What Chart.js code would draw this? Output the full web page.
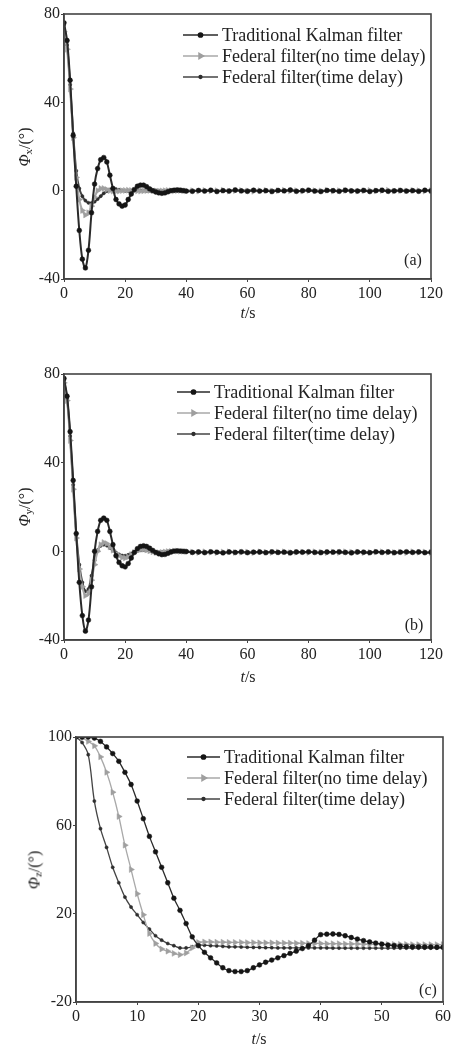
<!DOCTYPE html>
<html><head><meta charset="utf-8">
<script src="https://cdn.jsdelivr.net/npm/chart.js@4.4.1/dist/chart.umd.min.js"></script>
<style>
body{margin:0;background:#fff;width:455px;height:1048px;position:relative;overflow:hidden;font-family:"Liberation Serif",serif;color:#222}
.panel{position:absolute;left:0;width:455px}
.lbl{position:absolute;font-size:16px;white-space:nowrap;line-height:1}
.ytitle{transform:translate(-50%,-50%) rotate(-90deg)}
.ctr{transform:translate(-50%,-50%)}
sub{font-size:11px;vertical-align:-2px}
</style></head><body>
<div class="panel" style="top:0;height:330px"><canvas id="ca" width="455" height="330"></canvas></div>
<div class="panel" style="top:340px;height:330px"><canvas id="cb" width="455" height="330"></canvas></div>
<div class="panel" style="top:700px;height:348px"><canvas id="cc" width="455" height="348"></canvas></div>

<div class="lbl ytitle" style="left:25px;top:147px"><i>Φ</i><sub>x</sub>/(°)</div>
<div class="lbl ytitle" style="left:25px;top:507px"><i>Φ</i><sub>y</sub>/(°)</div>
<div class="lbl ytitle" style="left:35px;top:870px"><i>Φ</i><sub>z</sub>/(°)</div>
<div class="lbl ctr" style="left:248px;top:313px"><i>t</i>/s</div>
<div class="lbl ctr" style="left:248px;top:677px"><i>t</i>/s</div>
<div class="lbl ctr" style="left:259px;top:1039px"><i>t</i>/s</div>
<div class="lbl ctr" style="left:413px;top:260px">(a)</div>
<div class="lbl ctr" style="left:414px;top:625px">(b)</div>
<div class="lbl ctr" style="left:428px;top:990px">(c)</div>

<script>
const seriesNames = ["Traditional Kalman filter", "Federal filter(no time delay)", "Federal filter(time delay)"];

// time samples (s) for panels (a) and (b)
const tAB = [0,1,2,3,4,5,6,7,8,9,10,11,12,13,14,15,16,17,18,19,20,21,22,23,24,25,26,27,28,29,30,31,32,33,34,35,36,37,38,39,40,
  42,44,46,48,50,52,54,56,58,60,62,64,66,68,70,72,74,76,78,80,82,84,86,88,90,92,94,96,98,100,102,104,106,108,110,112,114,116,118,120];

// panel (a)
const aKalman = [76,68,50,25,2,-18,-31,-35,-27,-10,3,10,14,15,13,7,1,-4,-6,-7,-6.5,-4,-1.5,0.5,2,2.5,2.5,1.8,0.8,0,-0.6,-1,-1.2,-1,-0.5,0,0.2,0.3,0.2,0,-0.2,
  -0.3,0.1,-0.2,0.2,-0.4,0,-0.2,0.3,-0.1,-0.3,0.2,-0.2,0,-0.4,0.1,-0.1,0.3,-0.3,0,0.2,-0.2,-0.4,0.1,0,-0.3,0.2,-0.1,-0.2,0.1,-0.4,0,0.2,-0.3,-0.1,0.1,-0.2,0,-0.3,0.2,-0.1];
const aNoDelay = [72,64,46,24,6,-4,-9,-11,-10,-7,-3,0,1,1,0.5,0,-0.2,-0.3,-0.2,0,0.1,0.2,0.1,0,-0.1,-0.2,-0.1,0,0.1,0,-0.1,-0.2,-0.1,0,0.1,0,-0.1,0,0.1,0,-0.1,
  0,-0.2,0.1,-0.1,0,0.2,-0.2,0,0.1,-0.1,-0.3,0,0.1,-0.2,0,0.2,-0.1,0,-0.2,0.1,0,-0.1,0.2,-0.2,0,0.1,-0.1,-0.2,0,0.1,-0.1,0,0.2,-0.2,0,-0.1,0.1,0,-0.2,0];
const aDelay = [75,66,48,26,9,1,-2.5,-4.5,-5.5,-5.6,-5,-3.8,-2.5,-1.2,-0.2,0.5,0.8,0.7,0.4,0.1,-0.1,-0.2,-0.1,0,0.1,0.1,0,-0.1,-0.1,0,0.1,0,-0.1,0,0.1,0,-0.1,0,0.1,0,-0.1,
  0.1,-0.1,0,0.1,-0.2,0,0.1,-0.1,0,0.2,-0.1,0,-0.2,0.1,0,-0.1,0.1,0,-0.2,0,0.1,-0.1,0,0.1,-0.1,-0.2,0,0.1,0,-0.1,0.1,-0.2,0,0.1,-0.1,0,0.1,0,-0.1,0];

// panel (b)
const bKalman = [78,70,54,32,8,-14,-29,-36,-31,-16,0,9,14,15,14,9,3,-2,-5,-6.5,-7,-5.5,-3,-0.5,1.2,2.2,2.5,2.2,1.4,0.4,-0.5,-1.1,-1.5,-1.4,-0.9,-0.3,0.1,0.2,0.1,0,-0.1,
  -0.5,-0.3,-0.6,-0.2,-0.4,-0.7,-0.3,-0.5,-0.2,-0.6,-0.4,-0.3,-0.6,-0.2,-0.5,-0.4,-0.7,-0.3,-0.4,-0.2,-0.5,-0.6,-0.3,-0.4,-0.2,-0.5,-0.7,-0.3,-0.4,-0.6,-0.2,-0.5,-0.3,-0.6,-0.4,-0.2,-0.5,-0.3,-0.6,-0.4];
const bNoDelay = [76,68,50,28,6,-8,-16,-20,-19,-13,-6,0,3,4,3.5,2,0.5,-1,-2,-2.8,-3,-2.5,-1.5,-0.5,0.3,0.8,0.9,0.6,0.2,-0.2,-0.5,-0.6,-0.5,-0.3,-0.1,0,0.1,0.1,0,0,-0.1,
  -0.3,-0.5,-0.2,-0.4,-0.6,-0.3,-0.2,-0.5,-0.4,-0.3,-0.6,-0.2,-0.4,-0.5,-0.3,-0.2,-0.6,-0.4,-0.3,-0.5,-0.2,-0.4,-0.6,-0.3,-0.5,-0.2,-0.4,-0.3,-0.6,-0.5,-0.3,-0.2,-0.4,-0.5,-0.3,-0.6,-0.2,-0.4,-0.3,-0.5];
const bDelay = [77,69,52,30,8,-6,-14,-18,-17,-11,-4,0.5,2.5,3,2.6,1.6,0.4,-0.6,-1.4,-1.9,-2,-1.6,-1,-0.3,0.2,0.5,0.6,0.4,0.1,-0.1,-0.3,-0.4,-0.3,-0.2,0,0.1,0.1,0,0,-0.1,0,
  -0.4,-0.2,-0.5,-0.3,-0.4,-0.6,-0.2,-0.3,-0.5,-0.4,-0.2,-0.5,-0.3,-0.4,-0.6,-0.3,-0.2,-0.4,-0.5,-0.3,-0.4,-0.2,-0.5,-0.3,-0.6,-0.4,-0.2,-0.3,-0.5,-0.4,-0.3,-0.5,-0.2,-0.4,-0.3,-0.6,-0.4,-0.2,-0.5,-0.3];

// panel (c)
const tC = [0,1,2,3,4,5,6,7,8,9,10,11,12,13,14,15,16,17,18,19,20,21,22,23,24,25,26,27,28,29,30,
  31,32,33,34,35,36,37,38,39,40,41,42,43,44,45,46,47,48,49,50,51,52,53,54,55,56,57,58,59,60];
const cKalman = [100,100,100,99.5,98,95.5,92.5,89,84,78.5,71,63,55,48,41,34,27,21.5,15.5,9.5,5.5,2.5,0,-2.3,-4.5,-5.8,-6.2,-6.2,-5.8,-4.5,
  -3.2,-2,-1,0,1,2,3,4.2,5.5,8,10.5,10.7,10.8,10.6,10,9.2,8.5,7.8,7.2,6.7,6.2,5.8,5.5,5.3,5.1,5,5,4.9,4.9,4.8,4.8];
const cNoDelay = [100,99.5,98,96,91,84,75,64,51,40,29,19.5,11,6.5,4,3,2,1.4,2.2,4.5,7,7.2,7.2,7.1,7.1,7,7,7,6.9,6.9,
  6.8,6.8,6.8,6.7,6.7,6.7,6.6,6.6,6.5,6.5,6.5,6.4,6.4,6.4,6.3,6.3,6.3,6.2,6.2,6.2,6.2,6.1,6.1,6.1,6.1,6,6,6,6,6,6];
const cDelay = [100,97.5,92,71,58.5,50,41,34,27.5,23,19.5,16,13,10,8,6.5,5.5,4.5,4.5,5,5.8,5.7,5.5,5.4,5.2,5,5,4.9,4.8,4.7,
  4.7,4.6,4.6,4.5,4.5,4.5,4.5,4.5,4.5,4.5,4.5,4.5,4.4,4.4,4.4,4.4,4.4,4.4,4.4,4.4,4.4,4.4,4.4,4.4,4.4,4.4,4.4,4.4,4.4,4.4,4.4];

const FONT = '"Liberation Serif", serif';
const styles = [
  {line:'#2a2a2a', pt:'#151515', pointStyle:'circle', radius:2.4, rotation:0},
  {line:'#a9a9a9', pt:'#9f9f9f', pointStyle:'triangle', radius:3.4, rotation:90},
  {line:'#444444', pt:'#2e2e2e', pointStyle:'circle', radius:1.6, rotation:0}
];

const framePlugin = {
  id:'frame',
  afterDraw(chart){
    const a = chart.chartArea, ctx = chart.ctx;
    ctx.save(); ctx.strokeStyle='#444'; ctx.lineWidth=1.6;
    ctx.strokeRect(a.left, a.top, a.right-a.left, a.bottom-a.top);
    ctx.restore();
  }
};
const legendPlugin = {
  id:'customLegend',
  afterDatasetsDraw(chart, args, opts){
    const ctx = chart.ctx;
    ctx.save();
    chart.data.datasets.forEach((ds,i)=>{
      const y = opts.y + i*opts.dy, x0 = opts.x;
      ctx.strokeStyle = ds.borderColor; ctx.lineWidth = 1.6;
      ctx.beginPath(); ctx.moveTo(x0, y); ctx.lineTo(x0+opts.len, y); ctx.stroke();
      ctx.fillStyle = ds.pointBackgroundColor; ctx.strokeStyle = ds.pointBorderColor;
      Chart.helpers.drawPoint(ctx, {pointStyle: ds.pointStyle, radius: ds.pointRadius*0.85, rotation: ds.pointRotation, borderWidth:0.5}, x0+opts.len/2, y);
      ctx.fillStyle = '#222'; ctx.font = '18px ' + FONT; ctx.textBaseline = 'middle'; ctx.textAlign='left';
      ctx.fillText(ds.label, x0+opts.len+4, y+1);
    });
    ctx.restore();
  }
};

function makePanel(id, t, vals, xMax, xStep, yMin, yMax, lay, leg, lw){
  const datasets = vals.map((v,i)=>({
    label: seriesNames[i],
    data: t.map((x,k)=>({x:x, y:v[k]})),
    borderColor: styles[i].line, borderWidth: lw,
    pointBackgroundColor: styles[i].pt, pointBorderColor: styles[i].pt, pointBorderWidth: 0.5,
    pointStyle: styles[i].pointStyle, pointRadius: styles[i].radius, pointRotation: styles[i].rotation,
    tension: 0.35, fill:false
  }));
  new Chart(document.getElementById(id), {
    type:'line',
    data:{datasets},
    plugins:[framePlugin, legendPlugin],
    options:{
      responsive:false, animation:false, devicePixelRatio:1,
      layout:{padding:{top:lay.top, right:lay.right, left:0, bottom:0}},
      plugins:{legend:{display:false}, tooltip:{enabled:false}, customLegend:leg},
      scales:{
        x:{type:'linear', min:0, max:xMax,
           ticks:{stepSize:xStep, color:'#222', font:{family:FONT, size:16}, padding:2, maxRotation:0},
           grid:{drawOnChartArea:false, drawTicks:true, tickLength:3, color:'#444'},
           border:{color:'#444', width:1.5},
           afterFit(s){ s.height = lay.xh; }},
        y:{type:'linear', min:yMin, max:yMax,
           ticks:{stepSize:40, color:'#222', font:{family:FONT, size:16}, padding:1},
           grid:{drawOnChartArea:false, drawTicks:true, tickLength:3, color:'#444'},
           border:{color:'#444', width:1.5},
           afterFit(s){ s.width = lay.yw; }}
      }
    }
  });
}

makePanel('ca', tAB, [aKalman, aNoDelay, aDelay], 120, 20, -40, 80,
  {top:14, right:24, xh:51, yw:64}, {x:183, y:35, dy:21, len:35}, 2);
makePanel('cb', tAB, [bKalman, bNoDelay, bDelay], 120, 20, -40, 80,
  {top:34, right:24, xh:30, yw:64}, {x:177, y:52, dy:21, len:33}, 2);
makePanel('cc', tC, [cKalman, cNoDelay, cDelay], 60, 10, -20, 100,
  {top:37, right:12, xh:46, yw:76}, {x:187, y:57, dy:21, len:33}, 1.3);
</script>
</body></html>
